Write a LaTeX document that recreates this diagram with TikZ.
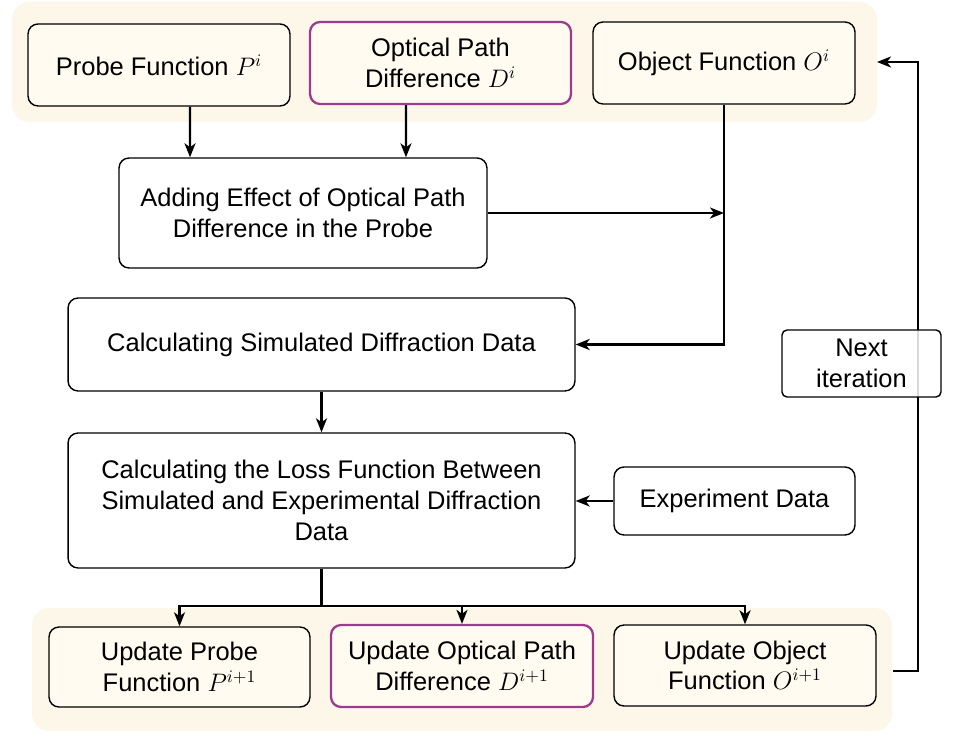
\documentclass[tikz,border=0pt]{standalone}
\usepackage{fontspec}
\setmainfont{Liberation Sans}
\usetikzlibrary{arrows.meta}
\definecolor{bandcream}{RGB}{253,247,233}
\definecolor{boxcream}{RGB}{255,251,240}
\definecolor{opdpurple}{RGB}{158,58,142}
\begin{document}
\begin{tikzpicture}[x=0.02cm,y=-0.02cm,
    box/.style={draw,rounded corners=0.2cm,align=center,inner sep=0pt,line width=0.8pt,fill=white,
      font=\fontsize{14.5}{17.5}\selectfont},
    bandbox/.style={box,fill=boxcream},
    opdbox/.style={bandbox,draw=opdpurple,line width=1.3pt},
    band/.style={fill=bandcream,rounded corners=0.35cm},
    arr/.style={-{Stealth[length=2.8mm,width=2.2mm,inset=0.8mm]},line width=1.3pt},
    line/.style={line width=1.3pt}]
  \useasboundingbox (0,0) rectangle (953,749);
  % the two cream bands
  \fill[band] (12,2) rectangle (877,122);
  \fill[band] (32,608) rectangle (892,731);
  % current estimates
  \node[bandbox,minimum width=5.24cm,minimum height=1.64cm] (probe) at (159,65) {Probe Function $P^{i}$};
  \node[opdbox,minimum width=5.22cm,minimum height=1.64cm] (opd) at (440.5,63) {Optical Path\\Difference $D^{i}$};
  \node[bandbox,minimum width=5.24cm,minimum height=1.64cm] (obj) at (724,63) {Object Function $O^{i}$};
  % forward model
  \node[box,minimum width=7.36cm,minimum height=2.2cm] (adding) at (303,213) {Adding Effect of Optical Path\\Difference in the Probe};
  \node[box,minimum width=10.14cm,minimum height=1.86cm] (calc) at (321.5,344.5) {Calculating Simulated Diffraction Data};
  \node[box,minimum width=10.14cm,minimum height=2.7cm] (loss) at (321.5,500.5) {Calculating the Loss Function Between\\Simulated and Experimental Diffraction\\Data};
  \node[box,minimum width=4.82cm,minimum height=1.36cm] (expt) at (734.5,501) {Experiment Data};
  % updates
  \node[bandbox,minimum width=5.22cm,minimum height=1.6cm] (upprobe) at (179.5,667) {Update Probe\\Function $P^{i+1}$};
  \node[opdbox,minimum width=5.24cm,minimum height=1.64cm] (upopd) at (462,666) {Update Optical Path\\Difference $D^{i+1}$};
  \node[bandbox,minimum width=5.24cm,minimum height=1.62cm] (upobj) at (745,665.5) {Update Object\\Function $O^{i+1}$};
  % connectors
  \draw[arr] ([xshift=0.62cm]probe.south) -- ([xshift=-2.26cm]adding.north);
  \draw[arr] ([xshift=-0.69cm]opd.south) -- ([xshift=2.06cm]adding.north);
  \draw[arr] (adding.east) -- (adding.east -| obj.south);
  \draw[arr] (obj.south) |- (calc.east);
  \draw[arr] (calc.south) -- (loss.north);
  \draw[arr] (expt.west) -- (expt.west -| loss.east);
  \draw[line] (loss.south) -- ++(0,37) coordinate (split);
  \draw[arr] (split) -| (upprobe.north);
  \draw[arr] (split) -| (upopd.north);
  \draw[arr] (split) -| (upobj.north);
  % next iteration loop
  \coordinate (loopa) at (893,671);
  \coordinate (loopb) at (877,62);
  \draw[arr] (loopa) -- (918,671) |- (loopb);
  \node[box,fill opacity=0.85,text opacity=1,rounded corners=0.1cm,minimum width=3.18cm,minimum height=1.34cm] (next) at (861.5,363.5) {Next\\iteration};
\end{tikzpicture}
\end{document}
